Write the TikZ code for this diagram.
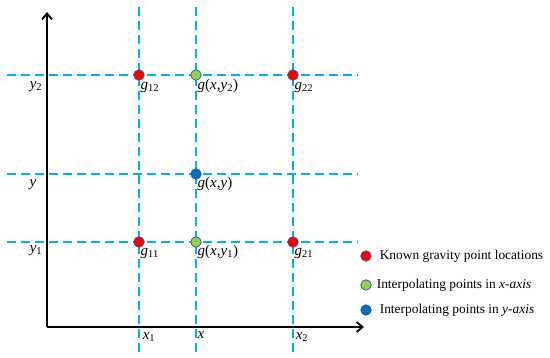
\documentclass[tikz,border=0pt]{standalone}
\usepackage{fontspec}
\setmainfont{Liberation Serif}
\usepackage{tikz}
\usetikzlibrary{arrows.meta,positioning}
\usepackage{xcolor}
\definecolor{GridBlue}{HTML}{00B0F0}
\definecolor{KnownRed}{HTML}{FF0000}
\definecolor{InterGreen}{HTML}{92D050}
\definecolor{InterBlue}{HTML}{0070C0}
\definecolor{DotEdge}{HTML}{2F528F}
\newcommand{\lowidx}[1]{\textsubscript{#1}}
\tikzset{
  gridline/.style={draw=GridBlue, line width=1.4pt, dash pattern=on 9pt off 5pt},
  axis/.style={draw=black, line width=1.8pt, -{Straight Barb[length=6pt,width=10pt,line width=1.8pt]}},
  dot/.style={circle, draw=DotEdge, line width=0.7pt, minimum size=10.5pt, inner sep=0pt},
  known/.style={dot, fill=KnownRed},
  interx/.style={dot, fill=InterGreen},
  intery/.style={dot, fill=InterBlue},
  lbl/.style={inner sep=0pt, font=\fontsize{15}{17}\selectfont},
  ptlbl/.style={lbl, anchor=base west},
  legend/.style={inner sep=0pt, anchor=west, font=\fontsize{13.4}{15}\selectfont}
}
\begin{document}
\begin{tikzpicture}[x=1pt, y=-1pt]
\useasboundingbox (0,0) rectangle (550,357);
% grid ends
\coordinate (v1t) at (139,7);   \coordinate (v1b) at (139,352);
\coordinate (vxt) at (196,7);   \coordinate (vxb) at (196,352);
\coordinate (v2t) at (293,7);   \coordinate (v2b) at (293,352);
\coordinate (h2l) at (7,75);    \coordinate (h2r) at (358,75);
\coordinate (hyl) at (7,174);   \coordinate (hyr) at (358,174);
\coordinate (h1l) at (7,242);   \coordinate (h1r) at (358,242);
\draw[gridline] (v1t) -- (v1b);
\draw[gridline] (vxt) -- (vxb);
\draw[gridline] (v2t) -- (v2b);
\draw[gridline] (h2l) -- (h2r);
\draw[gridline] (hyl) -- (hyr);
\draw[gridline] (h1l) -- (h1r);
% axes
\coordinate (origin) at (47,327);
\coordinate (ytip) at (47,12);
\coordinate (xtip) at (364,327);
\draw[axis] (origin) -- (ytip);
\draw[axis] (origin) -- (xtip);
% points
\node[known] (g12) at (139,75) {};
\node[interx] (gxy2) at (196,75) {};
\node[known] (g22) at (293,75) {};
\node[intery] (gxy) at (196,174) {};
\node[known] (g11) at (139,242) {};
\node[interx] (gxy1) at (196,242) {};
\node[known] (g21) at (293,242) {};
% point labels
\node[ptlbl] (t12) at ([xshift=1.5pt,yshift=-14pt]g12.center) {\textit{g}\lowidx{12}};
\node[ptlbl] (txy2) at ([xshift=1.5pt,yshift=-14pt]gxy2.center) {\textit{g}(\textit{x},\textit{y}\lowidx{2})};
\node[ptlbl] (t22) at ([xshift=1.5pt,yshift=-14pt]g22.center) {\textit{g}\lowidx{22}};
\node[ptlbl] (txy) at ([xshift=1.5pt,yshift=-13.5pt]gxy.center) {\textit{g}(\textit{x},\textit{y})};
\node[ptlbl] (t11) at ([xshift=1.5pt,yshift=-13.5pt]g11.center) {\textit{g}\lowidx{11}};
\node[ptlbl] (txy1) at ([xshift=1.5pt,yshift=-13.5pt]gxy1.center) {\textit{g}(\textit{x},\textit{y}\lowidx{1})};
\node[ptlbl] (t21) at ([xshift=1.5pt,yshift=-13.5pt]g21.center) {\textit{g}\lowidx{21}};
% axis labels
\node[lbl] (ly2) at (36,87) {\textit{y}\lowidx{2}};
\node[lbl] (ly) at (33,185) {\textit{y}};
\node[lbl] (ly1) at (36,251) {\textit{y}\lowidx{1}};
\node[lbl] (lx1) at (149,337) {\textit{x}\lowidx{1}};
\node[lbl] (lx) at (201,335) {\textit{x}};
\node[lbl] (lx2) at (302,337) {\textit{x}\lowidx{2}};
% legend
\node[known] (k) at (366,256) {};
\node[interx] (ix) at (366,285) {};
\node[intery] (iy) at (366,310) {};
\node[legend, right=8pt of k] (tk) {Known gravity point locations};
\node[legend, right=5pt of ix] (tix) {Interpolating points in \textit{x-axis}};
\node[legend, right=8pt of iy] (tiy) {Interpolating points in \textit{y-axis}};
\end{tikzpicture}
\end{document}
